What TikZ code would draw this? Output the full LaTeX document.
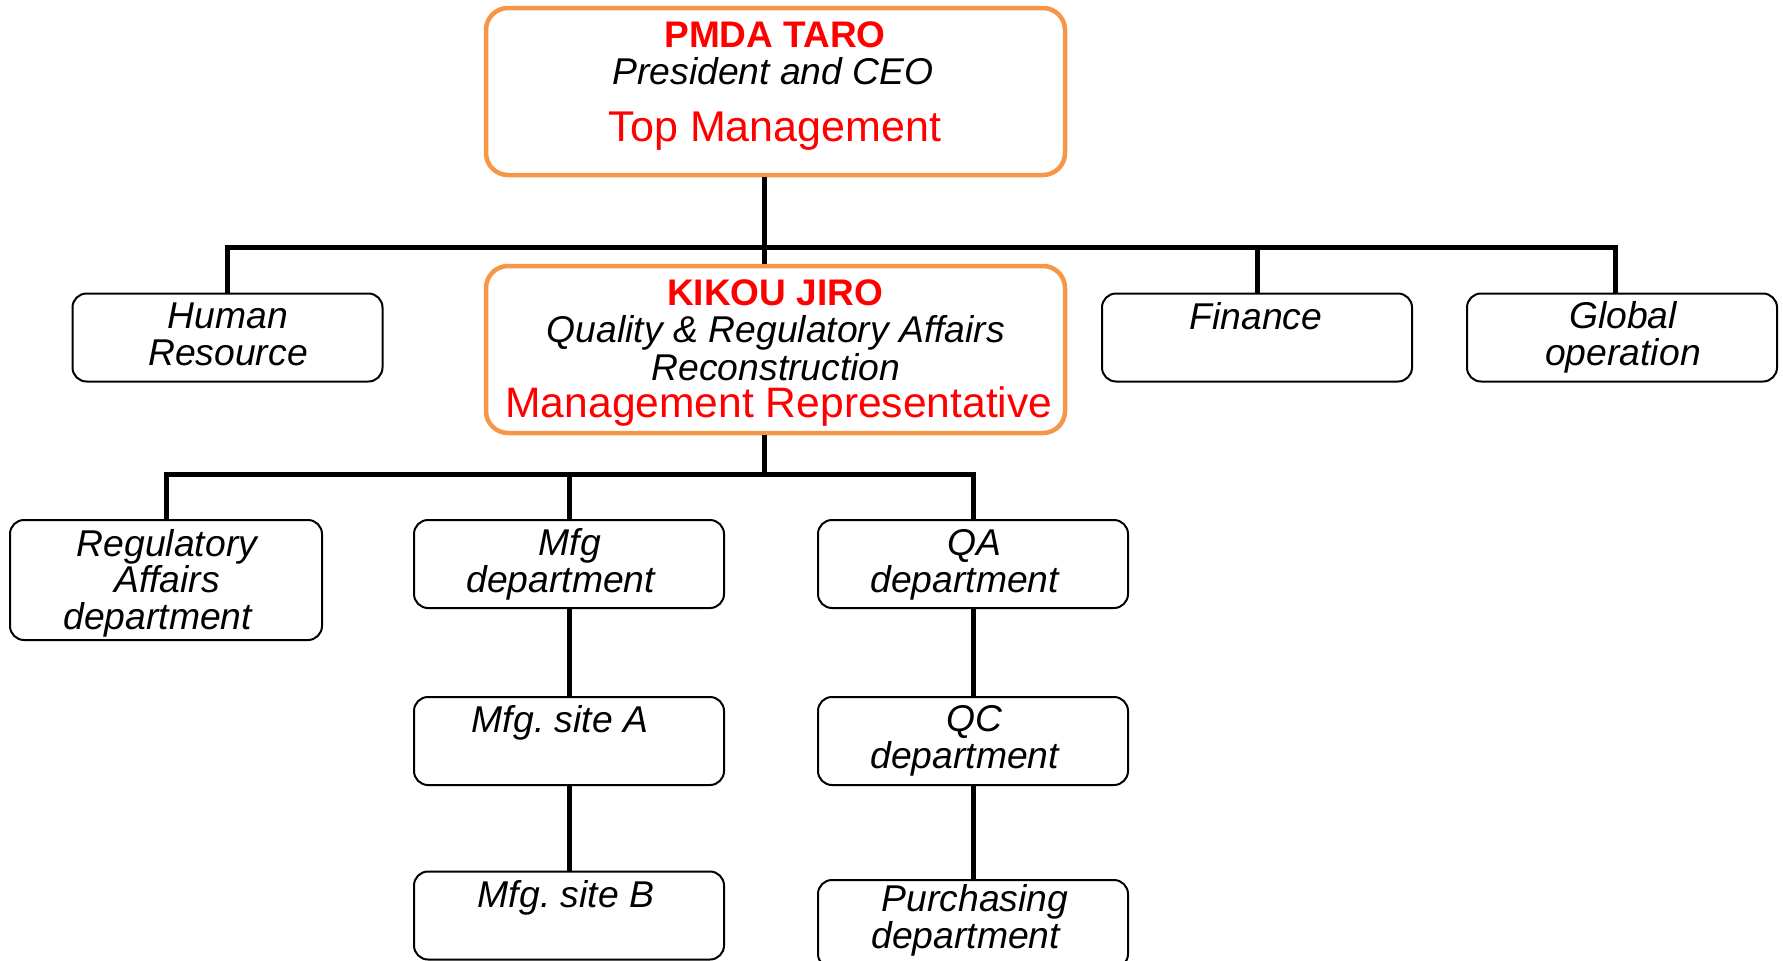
\documentclass[tikz,border=0pt]{standalone}
\usepackage{fontspec}
\setmainfont{Liberation Sans}
\definecolor{orng}{HTML}{F79646}
\definecolor{redt}{HTML}{FF0000}
\begin{document}
\frenchspacing
\begin{tikzpicture}[x=1pt,y=-1pt,
  obox/.style={draw=orng, line width=4.5pt, rounded corners=22pt, fill=white, inner sep=0pt, minimum width=579pt, minimum height=167pt},
  dbox/.style={draw=black, line width=2pt, rounded corners=14pt, fill=white, inner sep=0pt, minimum width=310pt, minimum height=88pt},
  txt/.style={anchor=base, align=center, inner sep=0pt, font=\fontsize{37.3}{36.5}\selectfont\itshape},
  nametxt/.style={anchor=base, inner sep=0pt, text=redt, font=\fontsize{37}{37}\selectfont\bfseries},
  roletxt/.style={anchor=base, inner sep=0pt, text=redt},
  conn/.style={line width=5pt}]
\useasboundingbox (0,0) rectangle (1783,961);
\clip (0,0) rectangle (1783,961);
% boxes
\node[obox] (top) at (775.5,91.5) {};
\node[obox] (kikou) at (775.5,349.5) {};
\node[dbox] (hr) at (227.5,337.5) {};
\node[dbox] (fin) at (1257,337.5) {};
\node[dbox] (glob) at (1622,337.5) {};
\node[dbox, minimum width=312pt, minimum height=120pt] (reg) at (166,580) {};
\node[dbox] (mfg) at (569,564) {};
\node[dbox] (qa) at (973,564) {};
\node[dbox] (siteA) at (569,741) {};
\node[dbox] (qc) at (973,741) {};
\node[dbox] (siteB) at (569,915.5) {};
\node[dbox] (purch) at (973,924) {};
% bus coordinates
\coordinate (bus1) at (764,247);
\coordinate (bus2) at (764,474);
% connectors
\draw[conn] (hr.north) -- (hr.north |- bus1) -| ([xshift=-7pt]glob.north);
\draw[conn] (fin.north) -- (fin.north |- bus1);
\draw[conn] (top.south -| bus1) -- (kikou.north -| bus1);
\draw[conn] (kikou.south -| bus1) -- (bus2);
\draw[conn] (reg.north) -- (reg.north |- bus2) -| (qa.north);
\draw[conn] (mfg.north) -- (mfg.north |- bus2);
\draw[conn] (mfg.south) -- (siteA.north);
\draw[conn] (siteA.south) -- (siteB.north);
\draw[conn] (qa.south) -- (qc.north);
\draw[conn] (qc.south) -- (purch.north);
% texts in top box
\node[nametxt] (topname) at (775,47) {PMDA TARO};
\node[txt] (toprole) at (773,84) {President and CEO};
\node[roletxt, font=\fontsize{43}{44}\selectfont] (toptm) at (775,141) {Top Management};
% texts in kikou box
\node[nametxt] (kname) at (775,305) {KIKOU JIRO};
\node[txt, font=\fontsize{37.3}{38}\selectfont\itshape] (krole) at (776,380) {Quality \& Regulatory Affairs\\Reconstruction};
\node[roletxt, font=\fontsize{42.6}{43}\selectfont] (kmr) at (779,417) {Management Representative};
% department texts (anchor at baseline of last line)
\node[txt] (hrt) at (228,365) {Human\\Resource};
\node[txt] (fint) at (1256,329) {Finance};
\node[txt] (globt) at (1623,365) {Global\\operation};
\node[txt] (regt) at (167,629) {Regulatory\\Affairs\\department\hspace*{0.5em}};
\node[txt, font=\fontsize{37.3}{37}\selectfont\itshape] (mfgt) at (570,592) {Mfg\\department\hspace*{0.5em}};
\node[txt, font=\fontsize{37.3}{37}\selectfont\itshape] (qat) at (974,592) {QA\\department\hspace*{0.5em}};
\node[txt] (siteAt) at (560,732) {Mfg. site A};
\node[txt] (siteBt) at (566,907) {Mfg. site B};
\node[txt] (qct) at (974,768) {QC\\department\hspace*{0.5em}};
\node[txt, font=\fontsize{37.3}{37}\selectfont\itshape] (purcht) at (975,948) {Purchasing\\department\hspace*{0.5em}};
\end{tikzpicture}
\end{document}
